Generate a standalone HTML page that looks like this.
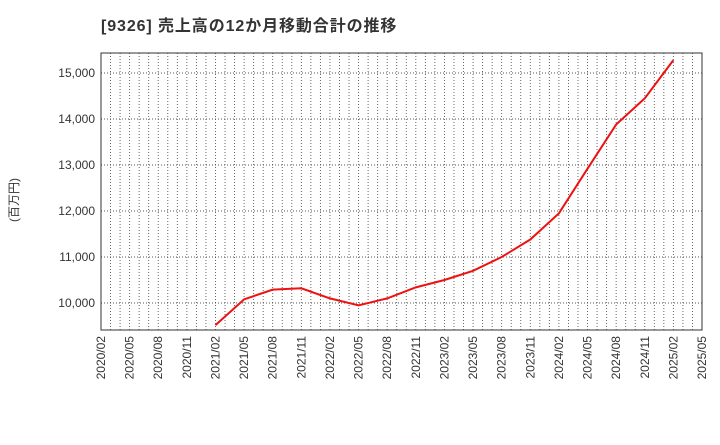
<!DOCTYPE html>
<html><head><meta charset="utf-8"><style>
body{margin:0;background:#fff;font-family:"Liberation Sans","Noto Sans CJK JP",sans-serif;}
</style></head><body>
<svg id="c" width="720" height="440" xmlns="http://www.w3.org/2000/svg">
<text x="101" y="31" font-size="16" letter-spacing="0.9" font-weight="bold" fill="#333" font-family="Liberation Sans, Noto Sans CJK JP, sans-serif">[9326]  売上高の12か月移動合計の推移</text>
<text transform="translate(18,200) rotate(-90)" text-anchor="middle" font-size="12" fill="#333" font-family="Liberation Sans, Noto Sans CJK JP, sans-serif">(百万円)</text>
<g id="grid"></g><g id="axes"></g><g id="series"></g>
</svg>
<script>
const xLabels=["2020/02","2020/05","2020/08","2020/11","2021/02","2021/05","2021/08","2021/11","2022/02","2022/05","2022/08","2022/11","2023/02","2023/05","2023/08","2023/11","2024/02","2024/05","2024/08","2024/11","2025/02","2025/05"];
const yTicks=[10000,11000,12000,13000,14000,15000];
const yTickLabels=["10,000","11,000","12,000","13,000","14,000","15,000"];
const pointLabels=["2021/02","2021/05","2021/08","2021/11","2022/02","2022/05","2022/08","2022/11","2023/02","2023/05","2023/08","2023/11","2024/02","2024/05","2024/08","2024/11","2025/02"];
const salesValues=[9520,10080,10290,10320,10100,9950,10100,10340,10500,10700,11000,11380,11950,12920,13880,14450,15280];
const L=101,R=702,T=53,B=330,yMin=9413,yMax=15435;
const ns="http://www.w3.org/2000/svg";
function mk(t,a,p){const e=document.createElementNS(ns,t);for(const k in a)e.setAttribute(k,a[k]);p.appendChild(e);return e;}
function xq(i){return L+(R-L)*i/(xLabels.length-1);}
function xOf(lbl){return xq(xLabels.indexOf(lbl));}
function y(v){return B-(v-yMin)/(yMax-yMin)*(B-T);}
const g=document.getElementById('grid'),ax=document.getElementById('axes'),s=document.getElementById('series');
const nM=(xLabels.length-1)*3;
for(let m=1;m<nM;m++){const x=L+(R-L)*m/nM;
const ln=mk('line',{x1:x,x2:x,y1:T,y2:B,stroke:'#555','stroke-width':0.9,'stroke-dasharray':'1,2'},g);

}
yTicks.forEach((v,i)=>{const ln=mk('line',{x1:L,x2:R,y1:y(v),y2:y(v),stroke:'#555','stroke-width':0.9,'stroke-dasharray':'1,2'},g);


const t=mk('text',{x:L-6,y:y(v)+4,'text-anchor':'end','font-size':12,fill:'#333'},ax);t.textContent=yTickLabels[i];

});
xLabels.forEach((l,i)=>{const x=xq(i);const t=mk('text',{transform:`translate(${x+4},${B+6}) rotate(-90)`,'text-anchor':'end','font-size':12,fill:'#333'},ax);t.textContent=l;

});
const fr=mk('rect',{x:L,y:T,width:R-L,height:B-T,fill:'none',stroke:'#333','stroke-width':1},ax);


const pts=salesValues.map((v,i)=>xOf(pointLabels[i])+','+y(v)).join(' ');
const pl=mk('polyline',{points:pts,fill:'none',stroke:'#ee1111','stroke-width':2},s);


</script>
</body></html>
